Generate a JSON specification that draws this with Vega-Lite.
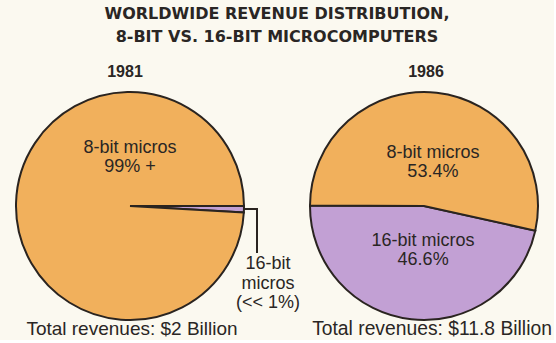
{
  "$schema": "https://vega.github.io/schema/vega-lite/v6.json",
  "background": "#fbf9f0",
  "padding": {"left": 0, "right": 0, "top": 6, "bottom": 0},
  "bounds": "flush",
  "spacing": 34,
  "title": {
    "text": ["WORLDWIDE REVENUE DISTRIBUTION,", "8-BIT VS. 16-BIT MICROCOMPUTERS"],
    "font": "DejaVu Sans",
    "fontSize": 16,
    "fontWeight": "bold",
    "lineHeight": 23,
    "color": "#2a2624",
    "anchor": "middle",
    "offset": 19
  },
  "config": {
    "view": {"stroke": null},
    "font": "Liberation Sans",
    "title": {"font": "Liberation Sans", "color": "#2a2624"},
    "text": {"font": "Liberation Sans", "color": "#2a2624"}
  },
  "hconcat": [
    {
      "width": 260,
      "height": 230,
      "title": {"text": "1981", "fontSize": 16, "fontWeight": "bold", "offset": 8, "dx": -5},
      "data": {
        "values": [
          {"segment": "16-bit micros", "share": 0.9, "label": "16-bit\nmicros\n(<< 1%)"},
          {"segment": "8-bit micros", "share": 99.1, "label": "8-bit micros\n99% +"}
        ]
      },
      "layer": [
        {
          "mark": {"type": "arc", "outerRadius": 114, "stroke": "#2a2420", "strokeWidth": 2},
          "encoding": {
            "theta": {"field": "share", "type": "quantitative", "stack": true, "scale": {"range": [1.5708, 7.854]}},
            "order": {"field": "segment", "sort": "ascending"},
            "color": {
              "field": "segment",
              "type": "nominal",
              "scale": {"domain": ["8-bit micros", "16-bit micros"], "range": ["#f1b05c", "#c2a0d4"]},
              "legend": null
            }
          }
        },
        {
          "transform": [{"filter": "datum.segment == '8-bit micros'"}],
          "mark": {"type": "text", "dy": -58, "fontSize": 18, "lineBreak": "\n", "lineHeight": 19, "baseline": "middle"},
          "encoding": {"text": {"field": "label", "type": "nominal"}}
        },
        {
          "transform": [{"filter": "datum.segment == '16-bit micros'"}],
          "mark": {"type": "text", "dx": 138, "dy": 58, "fontSize": 18, "lineBreak": "\n", "lineHeight": 19.5, "baseline": "middle"},
          "encoding": {"text": {"field": "label", "type": "nominal"}}
        },
        {
          "data": {"values": [{"caption": "Total revenues: $2 Billion"}]},
          "mark": {"type": "text", "dy": 123, "dx": 2, "fontSize": 19, "baseline": "middle"},
          "encoding": {"text": {"field": "caption", "type": "nominal"}}
        },
        {
          "data": {"values": [{"part": "leader"}]},
          "mark": {"type": "rule", "stroke": "#2a2420", "strokeWidth": 2},
          "encoding": {"x": {"value": 243}, "x2": {"value": 258}, "y": {"value": 118}, "y2": {"value": 118}}
        },
        {
          "data": {"values": [{"part": "leader"}]},
          "mark": {"type": "rule", "stroke": "#2a2420", "strokeWidth": 2},
          "encoding": {"x": {"value": 257}, "x2": {"value": 257}, "y": {"value": 117}, "y2": {"value": 162}}
        }
      ]
    },
    {
      "width": 260,
      "height": 230,
      "title": {"text": "1986", "fontSize": 16, "fontWeight": "bold", "offset": 8, "dx": 2},
      "data": {
        "values": [
          {"segment": "16-bit micros", "share": 46.6, "label": "16-bit micros\n46.6%"},
          {"segment": "8-bit micros", "share": 53.4, "label": "8-bit micros\n53.4%"}
        ]
      },
      "encoding": {
        "theta": {"field": "share", "type": "quantitative", "stack": true, "scale": {"range": [1.789, 8.072]}},
        "order": {"field": "segment", "sort": "ascending"}
      },
      "layer": [
        {
          "mark": {"type": "arc", "outerRadius": 114, "stroke": "#2a2420", "strokeWidth": 2},
          "encoding": {
            "color": {
              "field": "segment",
              "type": "nominal",
              "scale": {"domain": ["8-bit micros", "16-bit micros"], "range": ["#f1b05c", "#c2a0d4"]},
              "legend": null
            }
          }
        },
        {
          "mark": {"type": "text", "radius": 44, "dy": -9, "dx": 4, "fontSize": 18, "lineBreak": "\n", "lineHeight": 19, "baseline": "middle"},
          "encoding": {"text": {"field": "label", "type": "nominal"}}
        },
        {
          "data": {"values": [{"caption": "Total revenues: $11.8 Billion"}]},
          "mark": {"type": "text", "dy": 123, "dx": 8, "fontSize": 19.3, "baseline": "middle"},
          "encoding": {"text": {"field": "caption", "type": "nominal"}, "theta": null, "order": null}
        }
      ]
    }
  ]
}
